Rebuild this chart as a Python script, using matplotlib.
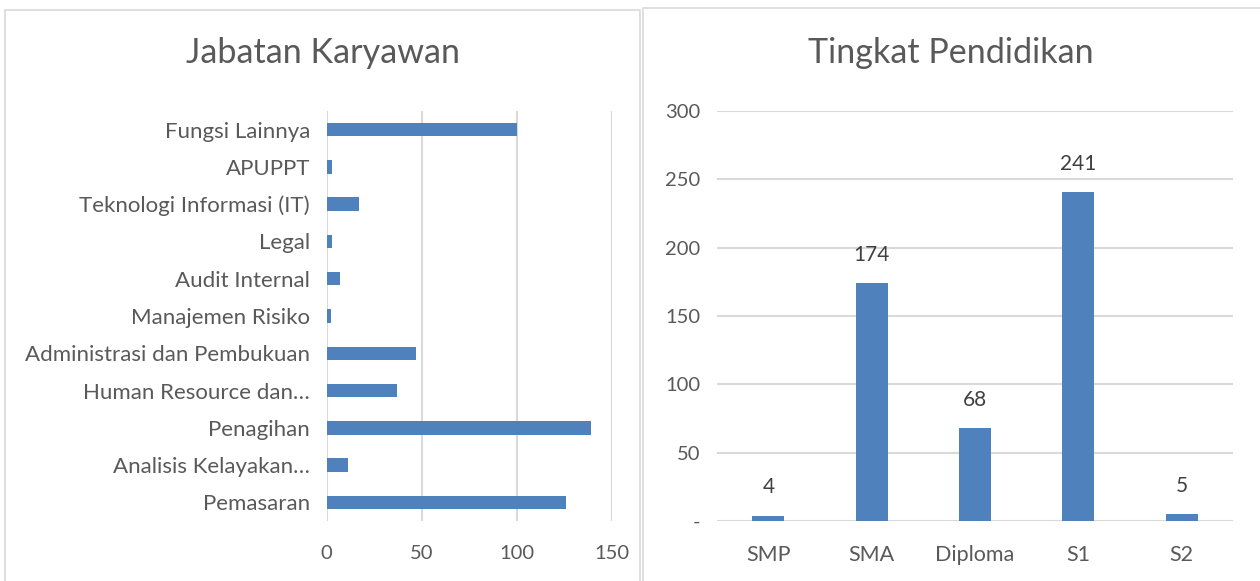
import matplotlib
matplotlib.use("Agg")
import matplotlib.pyplot as plt
from matplotlib.patches import Rectangle

plt.rcParams['font.family'] = ['Lato', 'DejaVu Sans']

# Data
jabatan_title = "Jabatan Karyawan"
jabatan_categories = [
    "Fungsi Lainnya", "APUPPT", "Teknologi Informasi (IT)", "Legal",
    "Audit Internal", "Manajemen Risiko", "Administrasi dan Pembukuan",
    "Human Resource dan…", "Penagihan", "Analisis Kelayakan…", "Pemasaran",
]
jabatan_values = [100, 3, 17, 3, 7, 2, 47, 37, 139, 11, 126]
jabatan_ticks = [0, 50, 100, 150]

pendidikan_title = "Tingkat Pendidikan"
pendidikan_categories = ["SMP", "SMA", "Diploma", "S1", "S2"]
pendidikan_values = [4, 174, 68, 241, 5]
pendidikan_ticks = [0, 50, 100, 150, 200, 250, 300]
pendidikan_ticklabels = ["-", "50", "100", "150", "200", "250", "300"]

BAR = "#4F81BD"
GRID = "#D9D9D9"
TXT = "#595959"
W, H = 1260, 581

fig = plt.figure(figsize=(12.6, 5.81), dpi=100)
fig.patch.set_facecolor("white")

# panel borders
fig.patches.append(Rectangle((5 / W, -0.05), (640 - 5) / W, 1 - 10 / H + 0.05,
                             transform=fig.transFigure, fill=False,
                             edgecolor=GRID, linewidth=1.2))
fig.patches.append(Rectangle((643 / W, -0.05), (1262 - 643) / W, 1 - 8 / H + 0.05,
                             transform=fig.transFigure, fill=False,
                             edgecolor=GRID, linewidth=1.2))

# Left chart
ax1 = fig.add_axes([326.7 / W, 1 - 521 / H, 285 / W, 410 / H])
ypos = list(range(len(jabatan_categories)))
ax1.barh(ypos, jabatan_values, height=0.36, color=BAR, zorder=3)
ax1.set_yticks(ypos)
ax1.set_yticklabels(jabatan_categories, fontsize=16, color=TXT)
ax1.set_ylim(len(jabatan_categories) - 0.5, -0.5)
ax1.set_xlim(0, 150)
ax1.set_xticks(jabatan_ticks)
ax1.set_xticklabels([str(t) for t in jabatan_ticks], fontsize=14.5, color=TXT)
ax1.grid(axis="x", color=GRID, linewidth=1.5, zorder=0)
for s in ax1.spines.values():
    s.set_visible(False)
ax1.tick_params(axis="both", length=0)
ax1.tick_params(axis="y", pad=12)
ax1.tick_params(axis="x", pad=17)
fig.text(323 / W, 1 - 53 / H, jabatan_title, ha="center", va="center",
         fontsize=24.6, color=TXT)

# Right chart
ax2 = fig.add_axes([716.7 / W, 1 - 521 / H, 516.6 / W, 410 / H])
xpos = list(range(len(pendidikan_categories)))
bars = ax2.bar(xpos, pendidikan_values, width=0.31, color=BAR, zorder=3)
ax2.set_xlim(-0.5, len(pendidikan_categories) - 0.5)
ax2.set_ylim(0, 300)
ax2.set_yticks(pendidikan_ticks)
ax2.set_yticklabels(pendidikan_ticklabels, fontsize=14.5, color=TXT)
ax2.set_xticks(xpos)
ax2.set_xticklabels(pendidikan_categories, fontsize=15.5, color=TXT)
ax2.grid(axis="y", color=GRID, linewidth=1.5, zorder=0)
for s in ax2.spines.values():
    s.set_visible(False)
ax2.tick_params(axis="both", length=0)
ax2.tick_params(axis="y", pad=12)
ax2.tick_params(axis="x", pad=17)
ax2.bar_label(bars, labels=[str(v) for v in pendidikan_values], padding=13,
              fontsize=15, color="#404040")
fig.text(951 / W, 1 - 53 / H, pendidikan_title, ha="center", va="center",
         fontsize=24.6, color=TXT)

fig.savefig("out.png", dpi=100, facecolor="white")
